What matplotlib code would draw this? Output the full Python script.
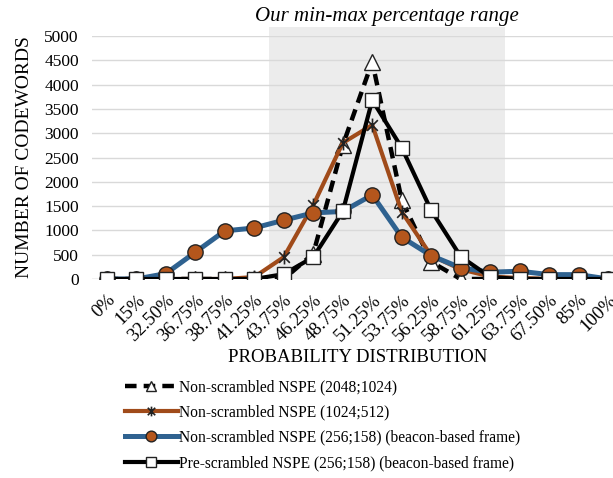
import numpy as np
import matplotlib
matplotlib.use("Agg")
import matplotlib.pyplot as plt
from matplotlib.path import Path
from matplotlib.patches import Rectangle

plt.rcParams["font.family"] = ["Liberation Serif", "DejaVu Serif"]

categories = ["0%", "15%", "32.50%", "36.75%", "38.75%", "41.25%", "43.75%",
              "46.25%", "48.75%", "51.25%", "53.75%", "56.25%", "58.75%",
              "61.25%", "63.75%", "67.50%", "85%", "100%"]

ns_2048 = [0, 0, 0, 0, 0, 0, 0, 520, 2750, 4470, 1620, 350, 0, 0, 0, 0, 0, 0]
ns_1024 = [0, 0, 0, 0, 0, 40, 450, 1520, 2800, 3170, 1380, 480, 200, 50, 20, 0, 0, 0]
ns_256 = [0, 0, 110, 550, 990, 1050, 1210, 1360, 1390, 1730, 860, 480, 230, 140, 160, 90, 90, 0]
ps_256 = [0, 0, 0, 0, 0, 0, 100, 450, 1390, 3680, 2700, 1410, 460, 40, 0, 0, 0, 0]

labels = ["Non-scrambled NSPE (2048;1024)",
          "Non-scrambled NSPE (1024;512)",
          "Non-scrambled NSPE (256;158) (beacon-based frame)",
          "Pre-scrambled NSPE (256;158) (beacon-based frame)"]

orange = "#a04b1a"
orange_fill = "#b4561c"
blue = "#2f6290"

# excel style star: X with a vertical bar
star = Path([(-1, -1), (1, 1), (-1, 1), (1, -1), (0, -1.3), (0, 1.3)],
            [Path.MOVETO, Path.LINETO, Path.MOVETO, Path.LINETO, Path.MOVETO, Path.LINETO])

fig = plt.figure(figsize=(6.13, 4.78), dpi=100)
ax = fig.add_axes([92/613, 1-279/478, 531/613, 243/478])

x = np.arange(len(categories))

ax.add_patch(Rectangle((5.5, 0), 8, 5185, facecolor="#ececec", edgecolor="none",
                       zorder=0, clip_on=False))
ax.text(9.5, 5200, "Our min-max percentage range", ha="center", va="bottom",
        fontsize=15, style="italic")

ax.plot(x, ns_2048, color="black", lw=3.2, ls=(0, (2.6, 1.6)), marker="^", ms=11,
        mfc="white", mec="#222222", mew=1.0, label=labels[0], zorder=3)
ax.plot(x, ns_1024, color=orange, lw=3.0, marker=star, ms=10, mec="#222222",
        mew=1.2, label=labels[1], zorder=4)
ax.plot(x, ns_256, color=blue, lw=3.6, marker="o", ms=11, mfc=orange_fill,
        mec="#222222", mew=1.0, label=labels[2], zorder=5)
ax.plot(x, ps_256, color="black", lw=3.0, marker="s", ms=10, mfc="white",
        mec="#222222", mew=1.0, label=labels[3], zorder=6)

ax.set_xlim(-0.5, len(categories) - 0.5)
ax.set_ylim(0, 5000)
ax.set_yticks(np.arange(0, 5001, 500))
ax.yaxis.grid(True, color="#d9d9d9", lw=1.0)
ax.set_axisbelow(True)
for s in ax.spines.values():
    s.set_visible(False)
ax.axhline(0, color="#d9d9d9", lw=1.0, zorder=1)
ax.tick_params(length=0)
ax.tick_params(axis="y", pad=9.5, labelsize=12.5)
ax.set_xticks(x)
ax.set_xticklabels(categories, rotation=45, ha="right", va="top",
                   rotation_mode="anchor")
ax.tick_params(axis="x", pad=9, labelsize=13.5)
ax.set_ylabel("NUMBER OF CODEWORDS", fontsize=14, labelpad=8)
ax.set_xlabel("PROBABILITY DISTRIBUTION", fontsize=13.5, labelpad=3)

fig.legend(loc="upper left", bbox_to_anchor=(125/613, 1-379/478), frameon=False,
           fontsize=11.2, handlelength=3.4, handletextpad=0.1, labelspacing=0.6,
           borderpad=0, borderaxespad=0, markerscale=0.7)

fig.savefig("out.png", dpi=100)
